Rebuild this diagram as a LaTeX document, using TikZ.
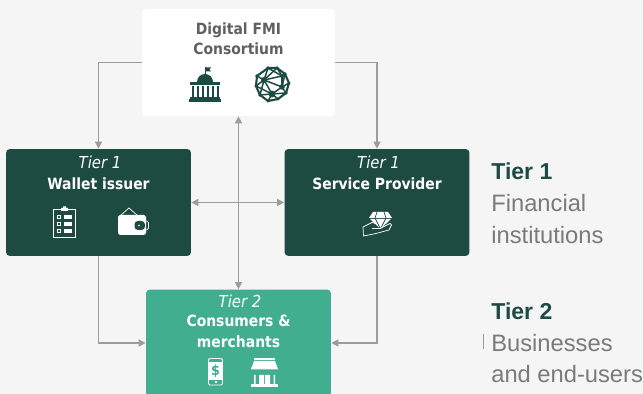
\documentclass[tikz,border=0pt]{standalone}
\usepackage{fontspec}
\setmainfont{DejaVu Sans Condensed}
\newfontfamily\legendfont{Liberation Sans}
\definecolor{pagegray}{HTML}{F5F5F5}
\definecolor{darkgreen}{HTML}{1D4B41}
\definecolor{lightgreen}{HTML}{40AE8F}
\definecolor{linegray}{HTML}{9C9C9C}
\definecolor{titlegray}{HTML}{606060}
\definecolor{legendgray}{HTML}{7A7A7A}
\usetikzlibrary{arrows.meta}
\tikzset{
    tierbox/.style={shape=rectangle,rounded corners=2.2pt,inner sep=0pt,minimum width=3.7cm,minimum height=2.14cm},
    boxtext/.style={align=center,font=\fontsize{8.8}{11.6}\selectfont\bfseries,inner sep=0pt,text=white},
    tiertext/.style={inner sep=0pt,text=white,font=\fontsize{9.4}{11}\selectfont\itshape},
    link/.style={draw=linegray,line width=0.75pt,-{Triangle[length=4pt,width=4pt]}},
    twolink/.style={draw=linegray,line width=0.75pt,{Triangle[length=4pt,width=4pt]}-{Triangle[length=4pt,width=4pt]}},
    legendhead/.style={anchor=west,inner sep=0pt,text=darkgreen,font=\legendfont\fontsize{13.1}{15}\selectfont\bfseries},
    legendtext/.style={anchor=west,inner sep=0pt,text=legendgray,font=\legendfont\fontsize{13.5}{15}\selectfont},
    thinicon/.style={draw=white,line width=0.4pt,fill=none}
}
\begin{document}
\begin{tikzpicture}[x=0.02cm,y=-0.02cm]
    \useasboundingbox[fill=pagegray] (0,0) rectangle (643,394);
    \begin{scope}
    \clip (0,0) rectangle (643,394);

    % boxes
    \node[tierbox,fill=white,minimum width=3.86cm] (consortium) at (238.5,62.5) {};
    \node[tierbox,fill=darkgreen] (wallet) at (98.5,202.5) {};
    \node[tierbox,fill=darkgreen] (provider) at (377,202.5) {};
    \node[tierbox,fill=lightgreen] (consumers) at (238.5,343) {};

    % box texts
    \node[boxtext,text=titlegray] (consortiumtext) at (238.5,39) {Digital FMI\\Consortium};
    \node[tiertext] (wallettier) at (100,162) {Tier 1};
    \node[boxtext] (walletname) at (98.5,184) {Wallet issuer};
    \node[tiertext] (providertier) at (378.5,162) {Tier 1};
    \node[boxtext] (providername) at (377,184) {Service Provider};
    \node[tiertext] (consumerstier) at (240,301) {Tier 2};
    \node[boxtext] (consumersname) at (238.5,331.5) {Consumers \&\\merchants};

    % legend
    \node[legendhead] (tierone) at (491,171) {Tier 1};
    \node[legendtext] (tieronea) at (491,203) {Financial};
    \node[legendtext] (tieroneb) at (491,235) {institutions};
    \node[legendhead] (tiertwo) at (491,311) {Tier 2};
    \node[legendtext] (tiertwoa) at (491,343) {Businesses};
    \node[legendtext] (tiertwob) at (491,374) {and end-users};
    \draw[draw=linegray,line width=0.3pt] (483,334) -- (483,349);

    % edges
    \path[link] (consortium.west) -| (wallet.north);
    \path[link] (consortium.east) -| (provider.north);
    \path[link] (wallet.south) |- (consumers.west);
    \path[link] (provider.south) |- (consumers.east);
    \path[twolink] (consortium.south) -- (consumers.north);
    \path[twolink] (wallet.east) -- (provider.west);

    % bank icon
    \begin{scope}[darkgreen]
        \draw[line width=0.4pt] (205,75) -- (205,67);
        \fill (205,67.5) -- (211,67.5) -- (209.5,69.5) -- (211,71.5) -- (205,71.5) -- cycle;
        \fill (197,82) arc[start angle=180,end angle=360,x radius=8,y radius=8] -- cycle;
        \fill (190,82.5) rectangle (220,85);
        \foreach \colx in {192,197,202,207,212,217}
            \fill (\colx,86) rectangle ++(2,11);
        \fill (190,97.5) rectangle (220,99);
        \fill (189,99.5) rectangle (221,102);
    \end{scope}

    % network icon
    \begin{scope}[shift={(272,84)},darkgreen]
        \draw[line width=1.2pt] (-4,-16) -- (5,-16) -- (13,-10) -- (17,-1) -- (14,9) -- (6,15) -- (-4,17) -- (-12,11) -- (-16,2) -- (-15,-8) -- cycle;
        \foreach \px/\py/\qx/\qy in {-8/-4/5/-16,-8/-4/-15/-8,-8/-4/-4/-16,-8/-4/10/-8,-8/-4/-12/11,-8/-4/0/10,-8/-4/10/3,10/3/13/-10,10/3/0/10,10/3/14/9,10/3/10/-8,0/10/-12/11,0/10/6/15,0/10/-4/17,10/-8/5/-16,10/-8/13/-10,0/10/-16/2,-8/-4/-16/2,10/3/17/-1,-4/-16/10/-8,0/10/14/9}
            \draw[line width=0.85pt] (\px,\py) -- (\qx,\qy);
        \foreach \px/\py/\pr in {-8/-4/3,10/3/2.8,0/10/3.4,10/-8/2,-4/-16/1.8,5/-16/1.8,13/-10/1.8,17/-1/1.7,14/9/1.8,6/15/1.7,-4/17/1.7,-12/11/1.8,-16/2/1.7,-15/-8/1.8}
            \fill (\px,\py) circle[radius=\pr];
    \end{scope}

    % clipboard icon
    \draw[thinicon] (53.5,209) rectangle (75.5,237.5);
    \fill[white] (61,208) rectangle (68,211) (63,206.5) rectangle (66,208);
    \foreach \rowy in {217,224,231} {
        \draw[thinicon] (57.5,\rowy-1.5) rectangle ++(3,3);
        \draw[thinicon,line width=0.6pt] (64,\rowy-1) -- (72,\rowy-1) (64,\rowy+1) -- (72,\rowy+1);
    }

    % wallet icon
    \draw[thinicon] (120,216) -- (129,208) -- (138,216);
    \fill[white,rounded corners=1pt] (118,215) rectangle (146,235);
    \fill[darkgreen,rounded corners=2pt] (134.5,221) rectangle (145,230);
    \draw[thinicon,rounded corners=1pt] (145,221) -- (148.5,221) -- (148.5,230) -- (145,230);
    \fill[white] (139,225.5) circle[radius=0.8];

    % diamond in hand icon
    \fill[white] (373,212) -- (388,212) -- (392,218) -- (369,218) -- cycle;
    \fill[white] (370,219) -- (391,219) -- (380.5,229) -- cycle;
    \draw[darkgreen,line width=0.4pt] (377,212) -- (375,218) -- (380.5,229) -- (386,218) -- (384,212);
    \draw[thinicon,line join=round] (363,227) -- (372,222.5) -- (376,223.5) (363,227) -- (363.5,236) -- (376,233.5) -- (389,230) -- (391.5,225) -- (390,223.5) -- (380,228.5) -- (372,228.5);

    % phone icon
    \draw[white,line width=0.55pt,rounded corners=0.7pt] (208.5,358.5) rectangle (222.5,385);
    \fill[white] (209,362) rectangle (222,380);
    \node[inner sep=0pt,text=lightgreen,font=\fontsize{8}{8}\selectfont\bfseries] (dollar) at (215.5,371) {\$};
    \fill[white] (214.5,381.5) rectangle (216.5,383.5);

    % store icon
    \fill[white] (254,358) rectangle (275,360);
    \fill[white] (254,361) -- (275,361) -- (278,369.5) -- (251,369.5) -- cycle;
    \foreach \archx in {251,256.4,261.8,267.2,272.6}
        \fill[white] (\archx,369) arc[start angle=180,end angle=360,radius=2.7] -- cycle;
    \fill[white] (254,375) rectangle (255.5,384) (273.5,375) rectangle (275,384);
    \fill[white] (259,375) rectangle (264,384) (265,375) rectangle (270,384);
    \fill[white] (251,384) rectangle (278,387);
    \end{scope}
\end{tikzpicture}
\end{document}
